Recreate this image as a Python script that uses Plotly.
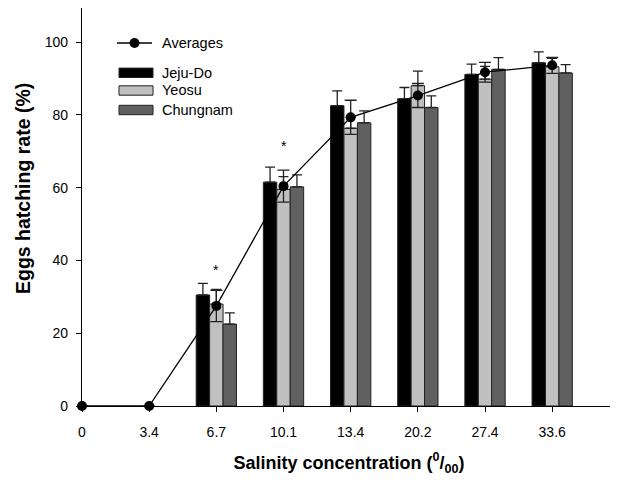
import plotly.graph_objects as go

categories = ["0", "3.4", "6.7", "10.1", "13.4", "20.2", "27.4", "33.6"]
jeju = [None, None, 30.5, 61.5, 82.5, 84.4, 91.1, 94.3]
jeju_err = [0, 0, 3.2, 4.1, 4.1, 3.1, 2.8, 3.0]
yeosu = [None, None, 28.0, 59.5, 76.3, 88.0, 89.8, 93.2]
yeosu_err = [0, 0, 4.0, 3.5, 3.0, 4.0, 3.5, 2.3]
chung = [None, None, 22.5, 60.2, 77.8, 82.0, 92.5, 91.5]
chung_err = [0, 0, 3.1, 3.3, 3.3, 3.2, 3.2, 2.3]
avg = [0, 0, 27.5, 60.4, 79.3, 85.3, 91.7, 93.6]
avg_err = [0, 0, 4.3, 4.4, 4.7, 3.3, 2.7, 2.2]
stars = {2: 37.5, 3: 71.5}

xpos = list(range(len(categories)))
FONT = "Liberation Sans, Arial, sans-serif"

# page body has an 8px margin; work in figure coordinates
OFF = 8
FW, FH = 618 - OFF, 482 - OFF
L, R, T, B = 82 - OFF, 616 - OFF, 0, 406 - OFF

fig = go.Figure()
for name, vals, errs, col in [("Jeju-Do", jeju, jeju_err, "#000000"),
                              ("Yeosu", yeosu, yeosu_err, "#c0c0c0"),
                              ("Chungnam", chung, chung_err, "#606060")]:
    fig.add_trace(go.Bar(
        x=xpos, y=vals, name=name, marker_color=col,
        marker_line=dict(color="#222222", width=1),
        error_y=dict(type="data", symmetric=False, array=errs,
                     arrayminus=[0] * len(errs), color="#222222",
                     thickness=1.3, width=5),
        showlegend=False))

fig.add_trace(go.Scatter(
    x=xpos, y=avg, mode="lines+markers", name="Averages",
    line=dict(color="#000000", width=1.3),
    marker=dict(color="#000000", size=10),
    error_y=dict(type="data", array=avg_err, color="#222222",
                 thickness=1.3, width=6),
    cliponaxis=False,
    showlegend=False))

def px(x):
    return (x - OFF - L) / (R - L)
def py(y):
    return (B - (y - OFF)) / (B - T)

shapes = []
annotations = []
shapes.append(dict(type="line", xref="paper", yref="paper",
                   x0=px(117), x1=px(152), y0=py(43), y1=py(43),
                   line=dict(color="black", width=1.3)))
shapes.append(dict(type="circle", xref="paper", yref="paper",
                   x0=px(129.5), x1=px(139.5), y0=py(38), y1=py(48),
                   fillcolor="black", line=dict(color="black", width=0)))
annotations.append(dict(xref="paper", yref="paper", x=px(160), y=py(43),
                        text="Averages", showarrow=False, xanchor="left",
                        yanchor="middle", font=dict(family=FONT, size=14.5, color="black")))
for name, col, yc in [("Jeju-Do", "#000000", 72.8), ("Yeosu", "#c0c0c0", 90.5),
                      ("Chungnam", "#606060", 110)]:
    shapes.append(dict(type="rect", xref="paper", yref="paper",
                       x0=px(119), x1=px(153), y0=py(yc - 4.7), y1=py(yc + 4.7),
                       fillcolor=col, line=dict(color="#222222", width=1)))
    annotations.append(dict(xref="paper", yref="paper", x=px(160), y=py(yc),
                            text=name, showarrow=False, xanchor="left",
                            yanchor="middle", font=dict(family=FONT, size=14.5, color="black")))

for xi, yv in stars.items():
    annotations.append(dict(x=xi, y=yv, text="*", showarrow=False,
                            font=dict(family=FONT, size=14, color="black")))

# y-axis title placed as a rotated annotation
annotations.append(dict(xref="paper", yref="paper", x=px(23), y=py(189),
                        text="<b>Eggs hatching rate (%)</b>", textangle=-90,
                        showarrow=False, xanchor="center", yanchor="middle",
                        font=dict(family=FONT, size=19.5, color="black")))

fig.update_layout(
    width=FW, height=FH,
    margin=dict(l=L, r=FW - R, t=T, b=FH - B, autoexpand=False),
    paper_bgcolor="white", plot_bgcolor="white",
    barmode="group", bargap=0.4, bargroupgap=0,
    shapes=shapes, annotations=annotations,
    font=dict(family=FONT, color="black"),
)
fig.update_xaxes(
    range=[0, 7.95], tickmode="array", tickvals=xpos, ticktext=categories,
    showline=True, linecolor="black", linewidth=1.3, showgrid=False, zeroline=False,
    ticks="outside", ticklen=5, tickwidth=1.3, tickcolor="black",
    tickfont=dict(family=FONT, size=14), ticklabelstandoff=8,
    title=dict(text="<b>Salinity concentration (<sup>0</sup>/<sub>00</sub>)</b>",
               font=dict(family=FONT, size=18), standoff=17))
fig.update_yaxes(
    range=[0, (B - T) / 3.64], tickvals=[0, 20, 40, 60, 80, 100],
    showline=True, linecolor="black", linewidth=1.3, showgrid=False, zeroline=False,
    ticks="outside", ticklen=5, tickwidth=1.3, tickcolor="black",
    tickfont=dict(family=FONT, size=14), ticklabelstandoff=5)

fig.write_html("out.html")
